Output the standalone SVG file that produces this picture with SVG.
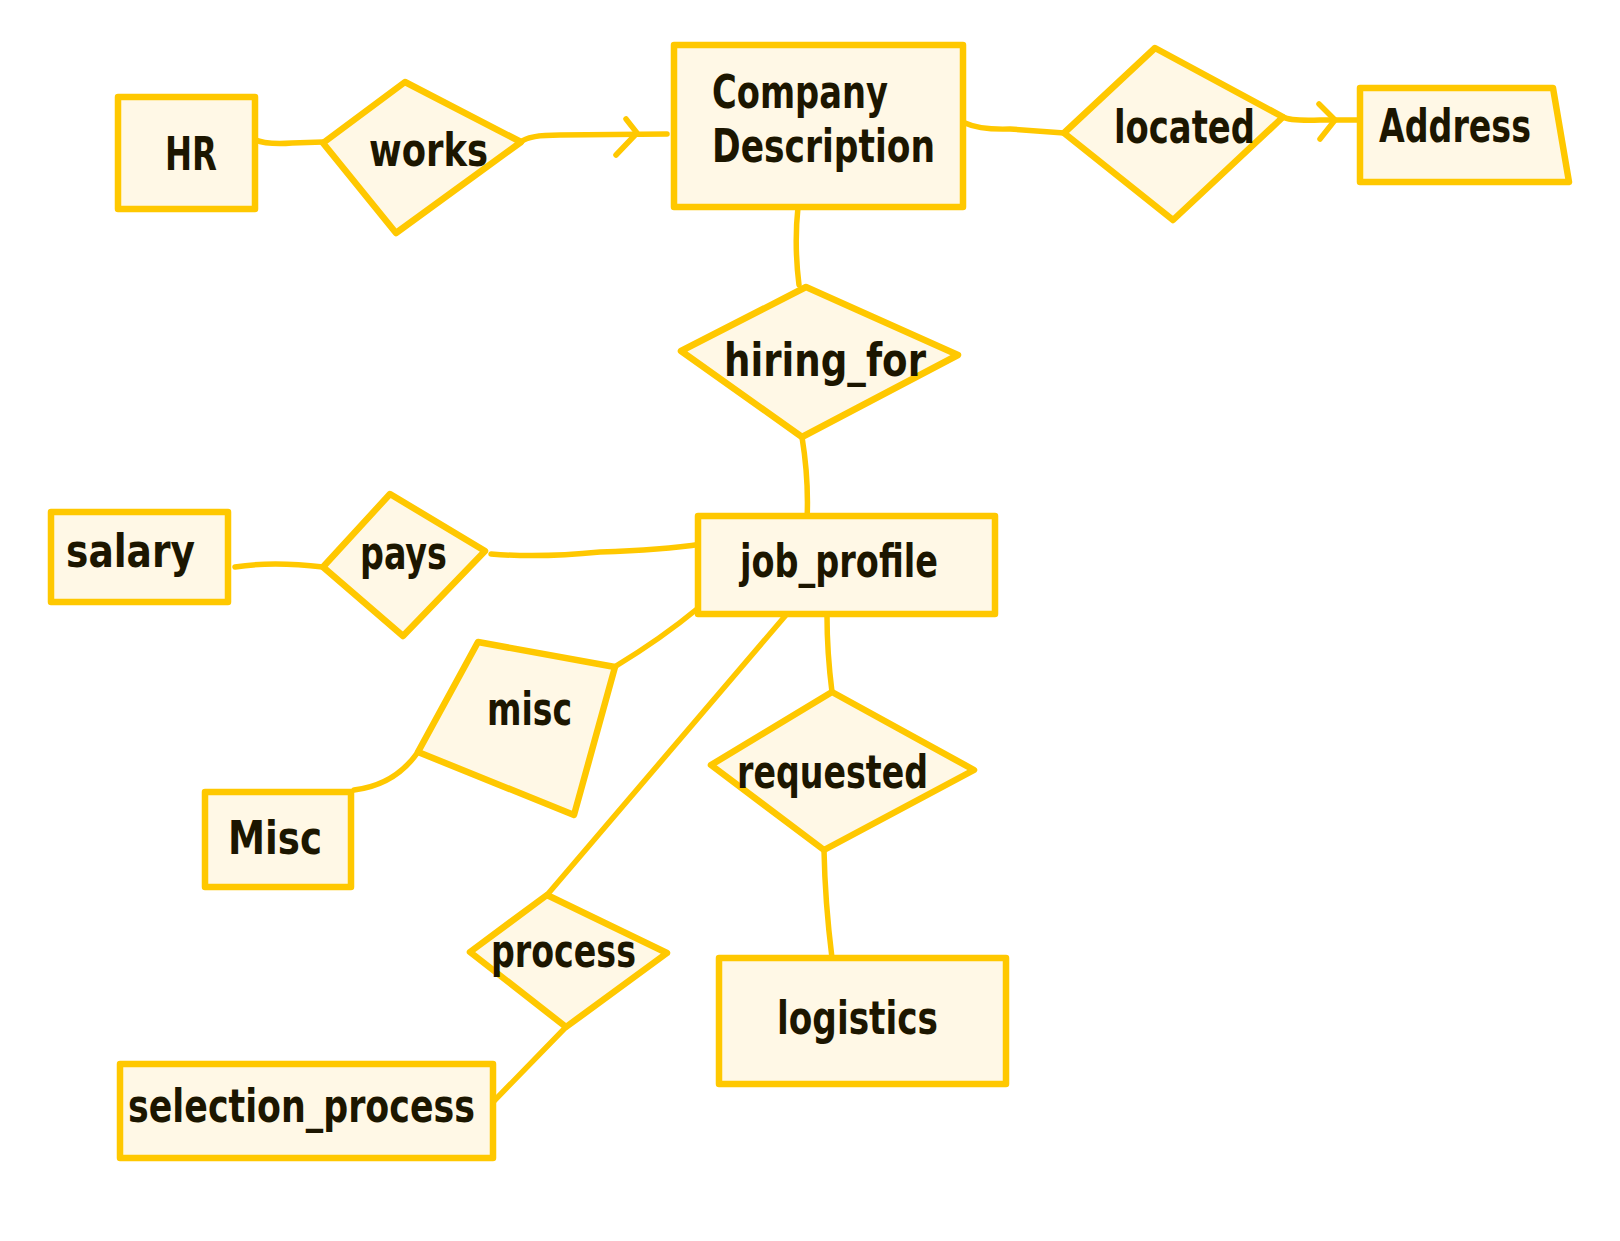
<svg xmlns="http://www.w3.org/2000/svg" width="1620" height="1241" viewBox="0 0 1620 1241">
<style>
.n{fill:#fff8e6;stroke:#ffc800;stroke-width:6.5;stroke-linejoin:round}
.c{fill:none;stroke:#ffc800;stroke-width:5.5;stroke-linecap:round;stroke-linejoin:round}
.t{font-family:"Liberation Sans Narrow","DejaVu Sans Condensed","Liberation Sans",sans-serif;font-weight:bold;font-size:47px;fill:#1c1600}
</style>
<rect width="1620" height="1241" fill="#ffffff"/>
<g id="connectors">
<path class="c" d="M253,139 Q266,145 292,143 L323,142"/>
<path class="c" d="M521,142 Q528,135 560,135 L667,134"/>
<path class="c" d="M626,119 L637,133 L616,155"/>
<path class="c" d="M965,123 Q980,130 1010,129 L1064,133"/>
<path class="c" d="M1283,117 Q1290,121 1320,120 L1360,120"/>
<path class="c" d="M1319,104 L1335,120 L1320,139"/>
<path class="c" d="M798,207 Q794,245 799,285"/>
<path class="c" d="M802,437 Q809,480 807,520"/>
<path class="c" d="M235,567 Q272,561 323,567"/>
<path class="c" d="M491,554 Q540,558 600,552 Q662,550 702,544"/>
<path class="c" d="M697,609 Q662,638 616,666"/>
<path class="c" d="M418,752 Q395,785 354,790"/>
<path class="c" d="M786,615 L547,895"/>
<path class="c" d="M827,616 Q827,652 832,692"/>
<path class="c" d="M566,1027 L494,1101"/>
<path class="c" d="M824,850 Q825,902 832,958"/>
</g>
<g id="node-hr">
<rect class="n" x="118" y="97" width="137" height="112"/>
<text class="t" x="165" y="170" textLength="52" lengthAdjust="spacingAndGlyphs">HR</text>
</g>
<g id="node-works">
<polygon class="n" points="323,143 405,82 521,142 396,233"/>
<text class="t" x="369" y="166" textLength="119" lengthAdjust="spacingAndGlyphs">works</text>
</g>
<g id="node-company">
<rect class="n" x="674" y="45" width="289" height="162"/>
<text class="t" x="712" y="108" textLength="176" lengthAdjust="spacingAndGlyphs">Company</text>
<text class="t" x="712" y="162" textLength="223" lengthAdjust="spacingAndGlyphs">Description</text>
</g>
<g id="node-located">
<polygon class="n" points="1064,133 1155,48 1283,117 1173,220"/>
<text class="t" x="1114" y="143" textLength="141" lengthAdjust="spacingAndGlyphs">located</text>
</g>
<g id="node-address">
<polygon class="n" points="1360,88 1553,88 1569,182 1360,182"/>
<text class="t" x="1379" y="142" textLength="152" lengthAdjust="spacingAndGlyphs">Address</text>
</g>
<g id="node-hiring">
<polygon class="n" points="681,351 806,287 958,355 802,437"/>
<text class="t" x="724" y="376" textLength="202" lengthAdjust="spacingAndGlyphs">hiring_for</text>
</g>
<g id="node-salary">
<rect class="n" x="51" y="512" width="177" height="90"/>
<text class="t" x="66" y="567" textLength="129" lengthAdjust="spacingAndGlyphs">salary</text>
</g>
<g id="node-pays">
<polygon class="n" points="390,494 485,551 403,636 323,567"/>
<text class="t" x="360" y="569" textLength="87" lengthAdjust="spacingAndGlyphs">pays</text>
</g>
<g id="node-job">
<rect class="n" x="698" y="516" width="297" height="98"/>
<text class="t" x="740" y="577" textLength="198" lengthAdjust="spacingAndGlyphs">job_profile</text>
</g>
<g id="node-misc-rel">
<polygon class="n" points="478,642 615,667 574,815 418,752"/>
<text class="t" x="487" y="725" textLength="85" lengthAdjust="spacingAndGlyphs">misc</text>
</g>
<g id="node-misc">
<rect class="n" x="205" y="792" width="146" height="95"/>
<text class="t" x="228" y="854" textLength="94" lengthAdjust="spacingAndGlyphs">Misc</text>
</g>
<g id="node-requested">
<polygon class="n" points="832,692 974,770 824,850 711,765"/>
<text class="t" x="737" y="788" textLength="191" lengthAdjust="spacingAndGlyphs">requested</text>
</g>
<g id="node-process">
<polygon class="n" points="547,895 667,953 566,1027 470,952"/>
<text class="t" x="491" y="967" textLength="145" lengthAdjust="spacingAndGlyphs">process</text>
</g>
<g id="node-selection">
<rect class="n" x="120" y="1064" width="373" height="94"/>
<text class="t" x="128" y="1122" textLength="347" lengthAdjust="spacingAndGlyphs">selection_process</text>
</g>
<g id="node-logistics">
<rect class="n" x="719" y="958" width="287" height="126"/>
<text class="t" x="777" y="1034" textLength="161" lengthAdjust="spacingAndGlyphs">logistics</text>
</g>
</svg>
